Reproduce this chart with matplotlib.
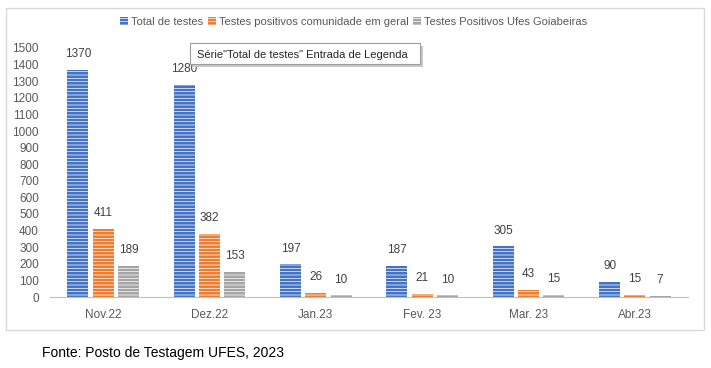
import numpy as np
import matplotlib.pyplot as plt
from matplotlib.patches import Rectangle, Patch

plt.rcParams['font.family'] = ['Liberation Sans', 'DejaVu Sans']
plt.rcParams['hatch.color'] = 'white'
plt.rcParams['hatch.linewidth'] = 0.5

meses = ['Nov.22', 'Dez.22', 'Jan.23', 'Fev. 23', 'Mar. 23', 'Abr.23']
total_testes = [1370, 1280, 197, 187, 305, 90]
positivos_comunidade = [411, 382, 26, 21, 43, 15]
positivos_ufes = [189, 153, 10, 10, 15, 7]

series = [
    ('Total de testes', total_testes, '#4472C4'),
    ('Testes positivos comunidade em geral', positivos_comunidade, '#ED7D31'),
    ('Testes Positivos Ufes Goiabeiras', positivos_ufes, '#A5A5A5'),
]

W, H = 711, 368
fig = plt.figure(figsize=(W / 100, H / 100), dpi=100)

# moldura do grafico
fig.patches.append(Rectangle((6 / W, 1 - 330 / H), 698 / W, 322 / H,
                             transform=fig.transFigure, fill=False,
                             edgecolor='#D9D9D9', linewidth=1))

ax = fig.add_axes([50 / W, 71 / H, 638 / W, 249 / H])
x = np.arange(len(meses))
largura = 0.198
passo = 0.237

for i, (nome, valores, cor) in enumerate(series):
    pos = x + (i - 1) * passo
    ax.bar(pos, valores, largura, color=cor, hatch='-----',
           edgecolor='white', linewidth=0, label=nome)
    for xp, v in zip(pos, valores):
        ax.annotate(str(v), (xp, v), xytext=(0, 7), textcoords='offset points',
                    ha='center', va='bottom', fontsize=8.5, color='#404040')

ax.set_xlim(-0.5, len(meses) - 0.5)
ax.set_ylim(0, 1500)
ax.set_yticks(range(0, 1501, 100))
ax.set_xticks(x)
ax.set_xticklabels(meses)
ax.tick_params(axis='both', length=0, labelsize=8.5, labelcolor='#595959')
ax.tick_params(axis='x', pad=9)
ax.tick_params(axis='y', pad=8)
for s in ['top', 'right', 'left']:
    ax.spines[s].set_visible(False)
ax.spines['bottom'].set_color('#BFBFBF')

handles = [Patch(facecolor=c, hatch='-----', edgecolor='white', linewidth=0)
           for _, _, c in series]
fig.legend(handles, [n for n, _, _ in series], loc='center',
           bbox_to_anchor=(354 / W, 1 - 22 / H), ncol=3, frameon=False,
           fontsize=8, handlelength=0.7, handleheight=0.7,
           handletextpad=0.3, columnspacing=0.4, labelcolor='#595959')

# caixa de dica
fig.patches.append(Rectangle((193 / W, 1 - 67 / H), 230 / W, 21 / H,
                             transform=fig.transFigure, facecolor='#C8C8C8',
                             edgecolor='none'))
fig.patches.append(Rectangle((190 / W, 1 - 64 / H), 230 / W, 21 / H,
                             transform=fig.transFigure, facecolor='white',
                             edgecolor='#9E9E9E', linewidth=0.8))
fig.text(302 / W, 1 - 54.5 / H, 'Série"Total de testes" Entrada de Legenda',
         ha='center', va='center_baseline', fontsize=8, color='#262626')

fig.text(42 / W, 1 - 353 / H, 'Fonte: Posto de Testagem UFES, 2023',
         ha='left', va='center', fontsize=10, color='black')

fig.savefig('out.png', dpi=100)
